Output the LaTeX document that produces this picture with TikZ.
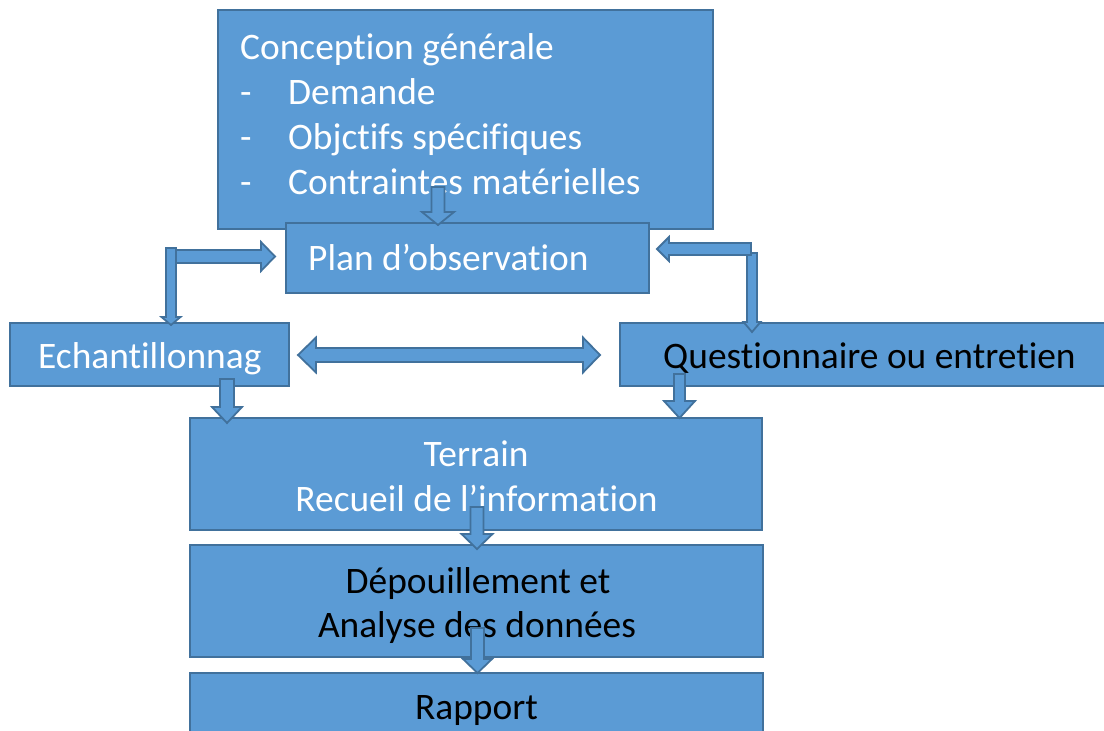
\documentclass[tikz,border=0pt]{standalone}
\usepackage{fontspec}
\setmainfont{Carlito}[Ligatures=NoCommon]
\definecolor{boxfill}{HTML}{5B9BD5}
\definecolor{boxline}{HTML}{41719C}
\tikzset{
  box/.style={draw=boxline, fill=boxfill, line width=2pt, inner sep=0pt, rectangle},
  arr/.style={draw=boxline, fill=boxfill, line width=1.8pt, line join=miter},
  txt/.style={font=\fontsize{37.4}{45}\selectfont, inner sep=0pt, text=white},
  txtb/.style={txt, text=black}
}
% vertical block arrow: x, top, tip, shaft half width, head half width, head length
\newcommand\vArr[6]{\draw[arr] ({#1-#4},#2) -- ({#1+#4},#2) -- ({#1+#4},{#3-(#6)}) -- ({#1+#5},{#3-(#6)}) -- (#1,#3) -- ({#1-#5},{#3-(#6)}) -- ({#1-#4},{#3-(#6)}) -- cycle;}
% horizontal block arrow: y, start, tip, shaft half width, head half width, signed head length
\newcommand\hArr[6]{\draw[arr] (#2,{#1-#4}) -- (#2,{#1+#4}) -- ({#3-(#6)},{#1+#4}) -- ({#3-(#6)},{#1+#5}) -- (#3,#1) -- ({#3-(#6)},{#1-#5}) -- ({#3-(#6)},{#1-#4}) -- cycle;}
\begin{document}
\begin{tikzpicture}[x=1pt,y=-1pt]
\useasboundingbox (0,0) rectangle (1104,731);
\clip (0,0) rectangle (1104,731);
% boxes
\node[box, minimum width=495pt, minimum height=219pt] (conc) at (465.5,119.5) {};
\node[box, minimum width=363pt, minimum height=70pt] (plan) at (467.5,258) {};
\node[box, minimum width=279pt, minimum height=63pt] (ech) at (149.5,354.5) {};
\node[box, minimum width=495pt, minimum height=63pt] (quest) at (867.5,354.5) {};
\node[box, minimum width=572pt, minimum height=112pt] (terr) at (476,474) {};
\node[box, minimum width=573pt, minimum height=112pt] (dep) at (476.5,601) {};
\node[box, minimum width=573pt, minimum height=72pt] (rap) at (476.5,709) {};
% texts
\node[txt, anchor=base west] (c0) at (240,59) {Conception générale};
\node[txt, anchor=base west] (d1) at (240,104) {-};
\node[txt, anchor=base west] (d2) at (240,149) {-};
\node[txt, anchor=base west] (d3) at (240,194) {-};
\node[txt, anchor=base west] (c1) at (288,104) {Demande};
\node[txt, anchor=base west] (c2) at (288,149) {Objctifs spécifiques};
\node[txt, anchor=base west] (c3) at (288,194) {Contraintes matérielles};
\node[txt, anchor=base west] (p0) at (308,270) {Plan d’observation};
\node[txt, anchor=base west] (e0) at (38,368) {Echantillonnag};
\node[txtb, anchor=base west] (q0) at (663,368) {Questionnaire ou entretien};
\node[txt, anchor=base] (t0) at (476,466) {Terrain};
\node[txt, anchor=base] (t1) at (476.5,511) {Recueil de l’information};
\node[txtb, anchor=base] (dp0) at (478,593) {Dépouillement et};
\node[txtb, anchor=base] (dp1) at (477,637) {Analyse des données};
\node[txtb, anchor=base] (r0) at (476.5,719) {Rapport};
% arrows
\vArr{438}{187}{225}{6.5}{16}{13}
\hArr{256.5}{173}{275}{6.5}{14.5}{14}
\vArr{171}{248}{325}{5}{9.5}{8}
\vArr{752}{253}{332}{5}{8.5}{10}
\hArr{249}{751}{657}{6}{12}{-12}
\draw[arr] (298,355) -- (316,337.5) -- (316,348) -- (583,348) -- (583,337.5) -- (600,355) -- (583,372.5) -- (583,362) -- (316,362) -- (316,372.5) -- cycle;
\vArr{227}{379}{423}{7}{15}{16}
\vArr{679.5}{374}{418}{5.5}{15.5}{17}
\vArr{477}{507}{549}{6.5}{15.5}{15}
\vArr{477.5}{628}{673}{6.5}{14.5}{14}
\end{tikzpicture}
\end{document}
